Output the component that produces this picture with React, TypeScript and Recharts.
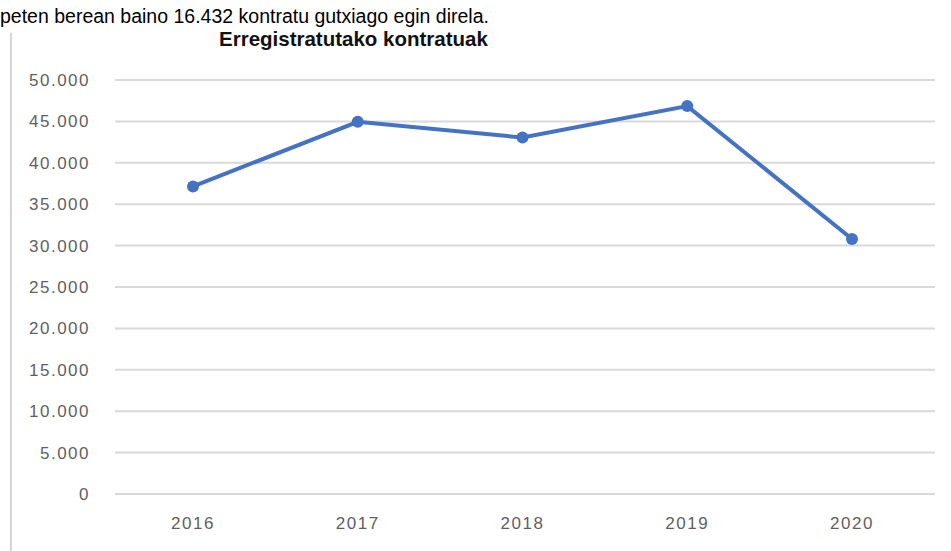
import React from 'react';
import { LineChart, Line, XAxis, YAxis, CartesianGrid } from 'recharts';

const years = ['2016', '2017', '2018', '2019', '2020'];
const contracts = [37150, 44950, 43050, 46850, 30800];
const yTicks = [0, 5000, 10000, 15000, 20000, 25000, 30000, 35000, 40000, 45000, 50000];

const introText = 'peten berean baino 16.432 kontratu gutxiago egin direla.';
const chartTitle = 'Erregistratutako kontratuak';

const data = years.map((year, i) => ({ year, value: contracts[i] }));

const fmt = (v: number) => String(v).replace(/\B(?=(\d{3})+(?!\d))/g, '.');

const tickStyle = {
  fontSize: 17,
  fill: '#5f5f5f',
  fontFamily: '"Liberation Sans", Arial, sans-serif',
  letterSpacing: 1.5,
};

export default function App() {
  return (
    <div style={{ position: 'absolute', left: 0, top: 0, width: 951, height: 551, background: '#fff', overflow: 'hidden' }}>
      <LineChart width={951} height={551} data={data} margin={{ top: 80, right: 16, left: 0, bottom: 0 }}>
        <CartesianGrid vertical={false} stroke="#d9d9d9" strokeWidth={2} />
        <XAxis
          dataKey="year"
          axisLine={false}
          tickLine={false}
          height={57}
          tickMargin={17}
          padding={{ left: 78, right: 83 }}
          tick={tickStyle}
        />
        <YAxis
          domain={[0, 50000]}
          ticks={yTicks}
          width={115}
          axisLine={false}
          tickLine={false}
          tickMargin={19}
          tickFormatter={fmt}
          tick={tickStyle}
        />
        <Line
          type="linear"
          dataKey="value"
          stroke="#4472C4"
          strokeWidth={4}
          dot={{ r: 6, fill: '#4472C4', stroke: '#4472C4', strokeWidth: 0 }}
          isAnimationActive={false}
        />
      </LineChart>
      <svg width={951} height={551} style={{ position: 'absolute', left: 0, top: 0, pointerEvents: 'none' }}>
        <line x1={11} y1={33} x2={11} y2={551} stroke="#d6d6d6" strokeWidth={2} />
        <text x={0} y={23} fontSize={19.5} fill="#000" fontFamily='"Liberation Sans", Arial, sans-serif'>
          {introText}
        </text>
        <text x={219} y={46} fontSize={20.5} fontWeight="bold" fill="#111" fontFamily='"Liberation Sans", Arial, sans-serif'>
          {chartTitle}
        </text>
      </svg>
    </div>
  );
}
